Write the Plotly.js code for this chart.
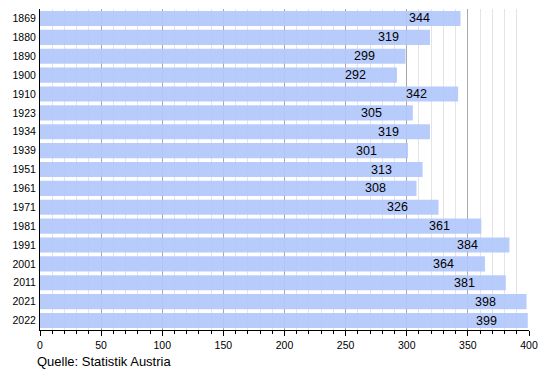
<!DOCTYPE html>
<html>
<head>
<meta charset="utf-8">
<script src="https://cdn.plot.ly/plotly-3.0.1.min.js"></script>
<style>html,body{margin:0;padding:0;background:#fff}#chart{width:550px;height:370px}</style>
</head>
<body>
<div id="chart"></div>
<script>
var years = ["1869","1880","1890","1900","1910","1923","1934","1939","1951","1961","1971","1981","1991","2001","2011","2021","2022"];
var values = [344,319,299,292,342,305,319,301,313,308,326,361,384,364,381,398,399];
var xTicks = [0,50,100,150,200,250,300,350,400];
var sourceText = "Quelle: Statistik Austria";

var font = "Liberation Sans, Arial, sans-serif";
var data = [{
  type: "bar",
  orientation: "h",
  y: years,
  x: values,
  marker: {color: "#b3c8fc", opacity: 0.93, line: {width: 0}},
  hoverinfo: "none"
}];
var annotations = years.map(function(y, i){
  return {x: values[i], y: i, xref: "x", yref: "y", text: String(values[i]),
    showarrow: false, xanchor: "right", xshift: -29, yshift: 0,
    font: {family: font, size: 12.5, color: "#000"}};
});
annotations.push({xref: "paper", yref: "paper", x: -0.011, y: -0.07, xanchor: "left", yanchor: "top",
  text: sourceText, showarrow: false, font: {family: font, size: 13, color: "#000"}});

var layout = {
  width: 550, height: 370,
  margin: {l: 40, r: 21, t: 9, b: 40},
  paper_bgcolor: "#fff", plot_bgcolor: "#fff",
  showlegend: false,
  bargap: 0.2,
  font: {family: font, size: 10.5, color: "#000"},
  xaxis: {
    range: [0, 400], tickvals: xTicks, ticktext: xTicks.map(String),
    showgrid: true, gridcolor: "#a8a8a8", gridwidth: 1,
    zeroline: false, showline: true, linecolor: "#000", linewidth: 1,
    ticks: "outside", ticklen: 5, tickcolor: "#000",
    minor: {dtick: 10, showgrid: true, gridcolor: "#e4e4e4", ticks: "outside", ticklen: 3, tickcolor: "#000"},
    tickfont: {family: font, size: 10.5}, fixedrange: true
  },
  yaxis: {
    type: "category", autorange: "reversed",
    showgrid: false, zeroline: false, showline: true, linecolor: "#000", linewidth: 1,
    ticks: "", ticklabelstandoff: 1,
    tickfont: {family: font, size: 10.5}, fixedrange: true
  },
  annotations: annotations
};
Plotly.newPlot("chart", data, layout, {displayModeBar: false, staticPlot: true});
</script>
</body>
</html>
